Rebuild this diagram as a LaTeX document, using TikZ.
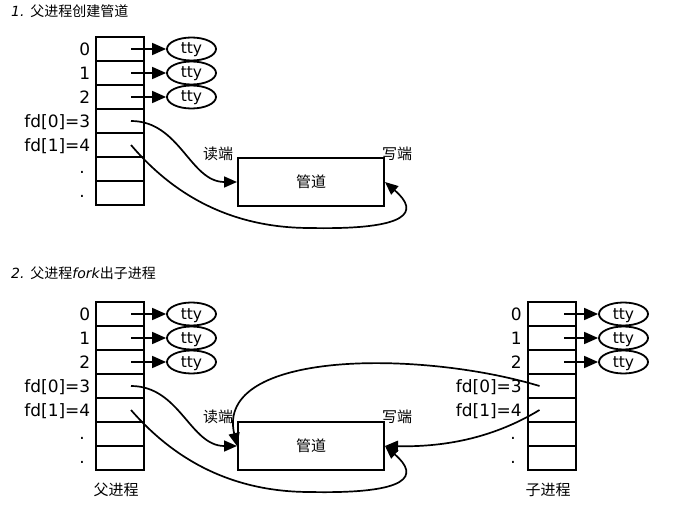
\documentclass[tikz,border=0pt]{standalone}
\usepackage{fontspec}
\setmainfont{DejaVu Sans}[ItalicFont={DejaVu Sans Oblique}]
\newfontfamily\cjk{Noto Sans CJK SC}
\usetikzlibrary{arrows.meta, shapes.geometric}

\tikzstyle{cell}     = [draw, line width=2bp, minimum width=48bp, minimum height=24bp, inner sep=0pt]
\tikzstyle{tty}      = [draw, ellipse, fill=white, line width=1.8bp, minimum width=49bp, minimum height=23bp, inner sep=0pt, text height=11bp, text depth=1bp, font=\fontsize{15.5bp}{15.5bp}\selectfont]
\tikzstyle{arrow}    = [line width=1.6bp, -{Triangle[length=14bp,width=12bp]}]
\tikzstyle{curve}    = [line width=1.7bp, -{Triangle[length=13bp,width=11bp]}]
\tikzstyle{fdtext}   = [anchor=east, inner sep=0pt, text height=12.4bp, text depth=0pt, font=\fontsize{17bp}{17bp}\selectfont]
\tikzstyle{ellipsis} = [anchor=base, inner sep=0pt, font=\fontsize{17bp}{17bp}\selectfont]
\tikzstyle{pipe}     = [draw, line width=2bp, minimum width=146bp, minimum height=48bp, font=\cjk\fontsize{15bp}{15bp}\selectfont]
\tikzstyle{zh}       = [inner sep=0pt, font=\cjk\fontsize{15bp}{15bp}\selectfont]
\tikzstyle{title}    = [anchor=west, inner sep=0pt, font=\itshape\fontsize{14bp}{14bp}\selectfont]

\begin{document}
\begin{tikzpicture}[x=1bp, y=-1bp]
\useasboundingbox (0,0) rectangle (678,507);

% 1. parent creates the pipe
\node[title] (T1) at (11,11) {1. {\cjk 父进程创建管道}};

\foreach \i in {0,...,6} \node[cell] (A\i) at (120,49+24*\i) {};
\foreach \i/\t in {0/0, 1/1, 2/2, 3/{fd[0]=3}, 4/{fd[1]=4}} \node[fdtext] (LA\i) at (90.5,49+24*\i) {\t};
\node[ellipsis] (DA5) at (82,174) {.};
\node[ellipsis] (DA6) at (82,198) {.};

\foreach \i in {0,1,2} {
  \node[tty] (TA\i) at (191.5,49+24*\i) {tty};
  \draw[arrow] ([xshift=11bp]A\i.center) -- (TA\i);
}

\node[pipe] (P1) at (311,182) {管道};
\node[zh] (R1) at (218,154) {读端};
\node[zh] (W1) at (397,154) {写端};

\draw[curve] ([xshift=11bp]A3.center) .. controls (180,121) and (190,182) .. (P1.west);
\draw[curve] ([xshift=11bp]A4.center) .. controls (165,185) and (220,228) .. (310,228)
             .. controls (410,230) and (420,212) .. (P1.east);

% 2. parent forks the child
\node[title] (T2) at (11,273) {2. {\cjk 父进程}fork{\cjk 出子进程}};

\foreach \i in {0,...,6} {
  \node[cell] (B\i) at (120,314+24*\i) {};
  \node[cell] (C\i) at (551.5,314+24*\i) {};
}
\foreach \i/\t in {0/0, 1/1, 2/2, 3/{fd[0]=3}, 4/{fd[1]=4}} {
  \node[fdtext] (LB\i) at (90.5,314+24*\i) {\t};
  \node[fdtext] (LC\i) at (522,314+24*\i) {\t};
}
\node[ellipsis] (DB5) at (82,439) {.};
\node[ellipsis] (DB6) at (82,463) {.};
\node[ellipsis] (DC5) at (513,439) {.};
\node[ellipsis] (DC6) at (513,463) {.};

\foreach \i in {0,1,2} {
  \node[tty] (TB\i) at (191.5,314+24*\i) {tty};
  \draw[arrow] ([xshift=11bp]B\i.center) -- (TB\i);
  \node[tty] (TC\i) at (623.5,314+24*\i) {tty};
  \draw[arrow] ([xshift=12.5bp]C\i.center) -- (TC\i);
}

\node[pipe] (P2) at (311,446) {管道};
\node[zh] (R2) at (218,417) {读端};
\node[zh] (W2) at (397,417) {写端};

\node[zh] (NB) at (116,490) {父进程};
\node[zh] (NC) at (548,490) {子进程};

\draw[curve] ([xshift=11bp]B3.center) .. controls (180,386) and (190,446) .. (P2.west);
\draw[curve] ([xshift=11bp]B4.center) .. controls (165,449) and (220,492) .. (310,492)
             .. controls (410,494) and (420,476) .. (P2.east);
\draw[curve] ([xshift=-12bp]C3.center) .. controls (420,350) and (215,350) .. (P2.west);
\draw[curve] ([xshift=-12bp]C4.center) .. controls (490,440) and (440,447) .. (P2.east);

\end{tikzpicture}
\end{document}
